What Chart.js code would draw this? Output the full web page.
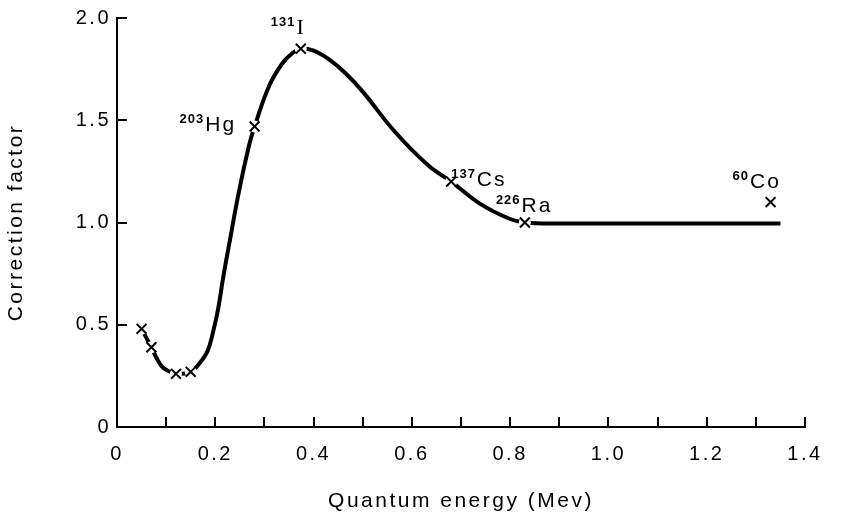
<!DOCTYPE html>
<html>
<head>
<meta charset="utf-8">
<script src="https://cdn.jsdelivr.net/npm/chart.js@4.4.1/dist/chart.umd.min.js"></script>
<style>
  html, body { margin: 0; padding: 0; background: #fff; }
  #wrap { position: relative; width: 847px; height: 520px; }
</style>
</head>
<body>
<div id="wrap"><canvas id="chart"></canvas></div>
<script>
// smooth curve
const curveEnergy = [0.05, 0.07, 0.08, 0.09, 0.10, 0.12, 0.15, 0.164, 0.184, 0.196, 0.206, 0.216, 0.228, 0.248, 0.269, 0.28, 0.31, 0.337, 0.358, 0.374, 0.40, 0.43, 0.465, 0.50, 0.565, 0.633, 0.68, 0.74, 0.80, 0.83, 0.90, 1.00, 1.10, 1.20, 1.35];
const curveFactor = [0.48, 0.39, 0.34, 0.30, 0.28, 0.26, 0.27, 0.30, 0.37, 0.47, 0.58, 0.73, 0.89, 1.15, 1.38, 1.47, 1.67, 1.78, 1.83, 1.85, 1.84, 1.80, 1.73, 1.64, 1.445, 1.28, 1.20, 1.09, 1.017, 1.00, 0.995, 0.995, 0.995, 0.995, 0.995];

// measured points (crosses)
const pointEnergy = [0.05, 0.07, 0.12, 0.15, 0.28, 0.374, 0.68, 0.83, 1.33];
const pointFactor = [0.48, 0.39, 0.26, 0.27, 1.47, 1.85, 1.20, 1.00, 1.10];
const massNumbers = ["", "", "", "", "203", "131", "137", "226", "60"];
const elements = ["", "", "", "", "Hg", "I", "Cs", "Ra", "Co"];

const xTicks = [0, 0.2, 0.4, 0.6, 0.8, 1.0, 1.2, 1.4];
const yTicks = [0, 0.5, 1.0, 1.5, 2.0];

// label placement relative to the cross: left edge of mass number, baseline of symbol
const labelOffsets = {
  Hg: [-75, 5], I: [-30, -15], Cs: [0, 4], Ra: [-29, -11], Co: [-38, -14]
};

const FONT = "'Liberation Sans', Arial, sans-serif";

const curvePts = curveEnergy.map((x, i) => ({ x: x, y: curveFactor[i] }));
const crossPts = pointEnergy.map((x, i) => ({ x: x, y: pointFactor[i] }));

const spacing = {
  id: "spacing",
  beforeLayout(chart) { chart.ctx.letterSpacing = "2.5px"; },
  beforeDraw(chart) { chart.ctx.letterSpacing = "2.5px"; }
};

// tick marks point into the plot
const innerTicks = {
  id: "innerTicks",
  afterDraw(chart) {
    const ctx = chart.ctx;
    const xs = chart.scales.x, ys = chart.scales.y;
    const area = chart.chartArea;
    ctx.save();
    ctx.strokeStyle = "#000";
    ctx.lineWidth = 2;
    ctx.beginPath();
    for (let i = 1; i <= 14; i++) {
      const px = Math.round(xs.getPixelForValue(i / 10));
      ctx.moveTo(px, area.bottom);
      ctx.lineTo(px, area.bottom - 10);
    }
    yTicks.forEach(v => {
      if (v === 0) return;
      const py = Math.round(ys.getPixelForValue(v));
      ctx.moveTo(area.left, py);
      ctx.lineTo(area.left + 10, py);
    });
    ctx.stroke();
    ctx.restore();
  }
};

const isotopeLabels = {
  id: "isotopeLabels",
  afterDatasetsDraw(chart) {
    const ctx = chart.ctx;
    const xs = chart.scales.x, ys = chart.scales.y;
    ctx.save();
    ctx.fillStyle = "#000";
    ctx.textBaseline = "alphabetic";
    ctx.textAlign = "left";
    elements.forEach((el, i) => {
      if (!el) return;
      const off = labelOffsets[el];
      const px = xs.getPixelForValue(pointEnergy[i]) + off[0];
      const py = ys.getPixelForValue(pointFactor[i]) + off[1];
      ctx.letterSpacing = "1px";
      ctx.font = "bold 13px " + FONT;
      ctx.fillText(massNumbers[i], px, py - 8);
      const w = ctx.measureText(massNumbers[i]).width;
      ctx.letterSpacing = "2px";
      ctx.font = el === "I" ? "22px 'Liberation Serif', serif" : "21px " + FONT;
      ctx.fillText(el, px + w + 1, py);
    });
    ctx.restore();
  }
};

new Chart(document.getElementById("chart"), {
  type: "scatter",
  data: {
    datasets: [
      {
        label: "curve",
        data: curvePts,
        showLine: true,
        borderColor: "#000",
        borderWidth: 4,
        pointRadius: 0,
        tension: 0.4,
        order: 3
      },
      {
        label: "mask",
        data: crossPts,
        showLine: false,
        pointStyle: "circle",
        pointRadius: 6,
        backgroundColor: "#fff",
        borderWidth: 0,
        order: 2
      },
      {
        label: "sources",
        data: crossPts,
        showLine: false,
        pointStyle: "crossRot",
        pointRadius: 7,
        borderColor: "#000",
        borderWidth: 2,
        order: 1
      }
    ]
  },
  options: {
    responsive: true,
    maintainAspectRatio: false,
    animation: false,
    events: [],
    layout: { padding: { left: 0, right: 42, top: 14, bottom: 0 } },
    plugins: { legend: { display: false }, tooltip: { enabled: false } },
    scales: {
      x: {
        type: "linear",
        min: 0,
        max: 1.4,
        afterBuildTicks: s => { s.ticks = xTicks.map(v => ({ value: v })); },
        afterFit: s => { s.height = 93; },
        grid: { display: false, drawTicks: false },
        border: { display: true, color: "#000", width: 2 },
        ticks: {
          color: "#000",
          padding: 15,
          maxRotation: 0,
          autoSkip: false,
          font: { family: FONT, size: 20 },
          callback: v => (v === 0 ? "0" : v.toFixed(1))
        },
        title: {
          display: true,
          text: "Quantum energy (Mev)",
          color: "#000",
          font: { family: FONT, size: 21 },
          padding: { top: 0, bottom: 6 }
        }
      },
      y: {
        type: "linear",
        min: 0,
        max: 2,
        afterBuildTicks: s => { s.ticks = yTicks.map(v => ({ value: v })); },
        afterFit: s => { s.width = 117; },
        grid: { display: false, drawTicks: false },
        border: { display: true, color: "#000", width: 2 },
        ticks: {
          color: "#000",
          padding: 6,
          font: { family: FONT, size: 20 },
          callback: v => (v === 0 ? "0" : v.toFixed(1))
        },
        title: {
          display: true,
          text: "Correction factor",
          color: "#000",
          font: { family: FONT, size: 21 },
          padding: { top: 4, bottom: 0 }
        }
      }
    }
  },
  plugins: [spacing, innerTicks, isotopeLabels]
});
</script>
</body>
</html>
